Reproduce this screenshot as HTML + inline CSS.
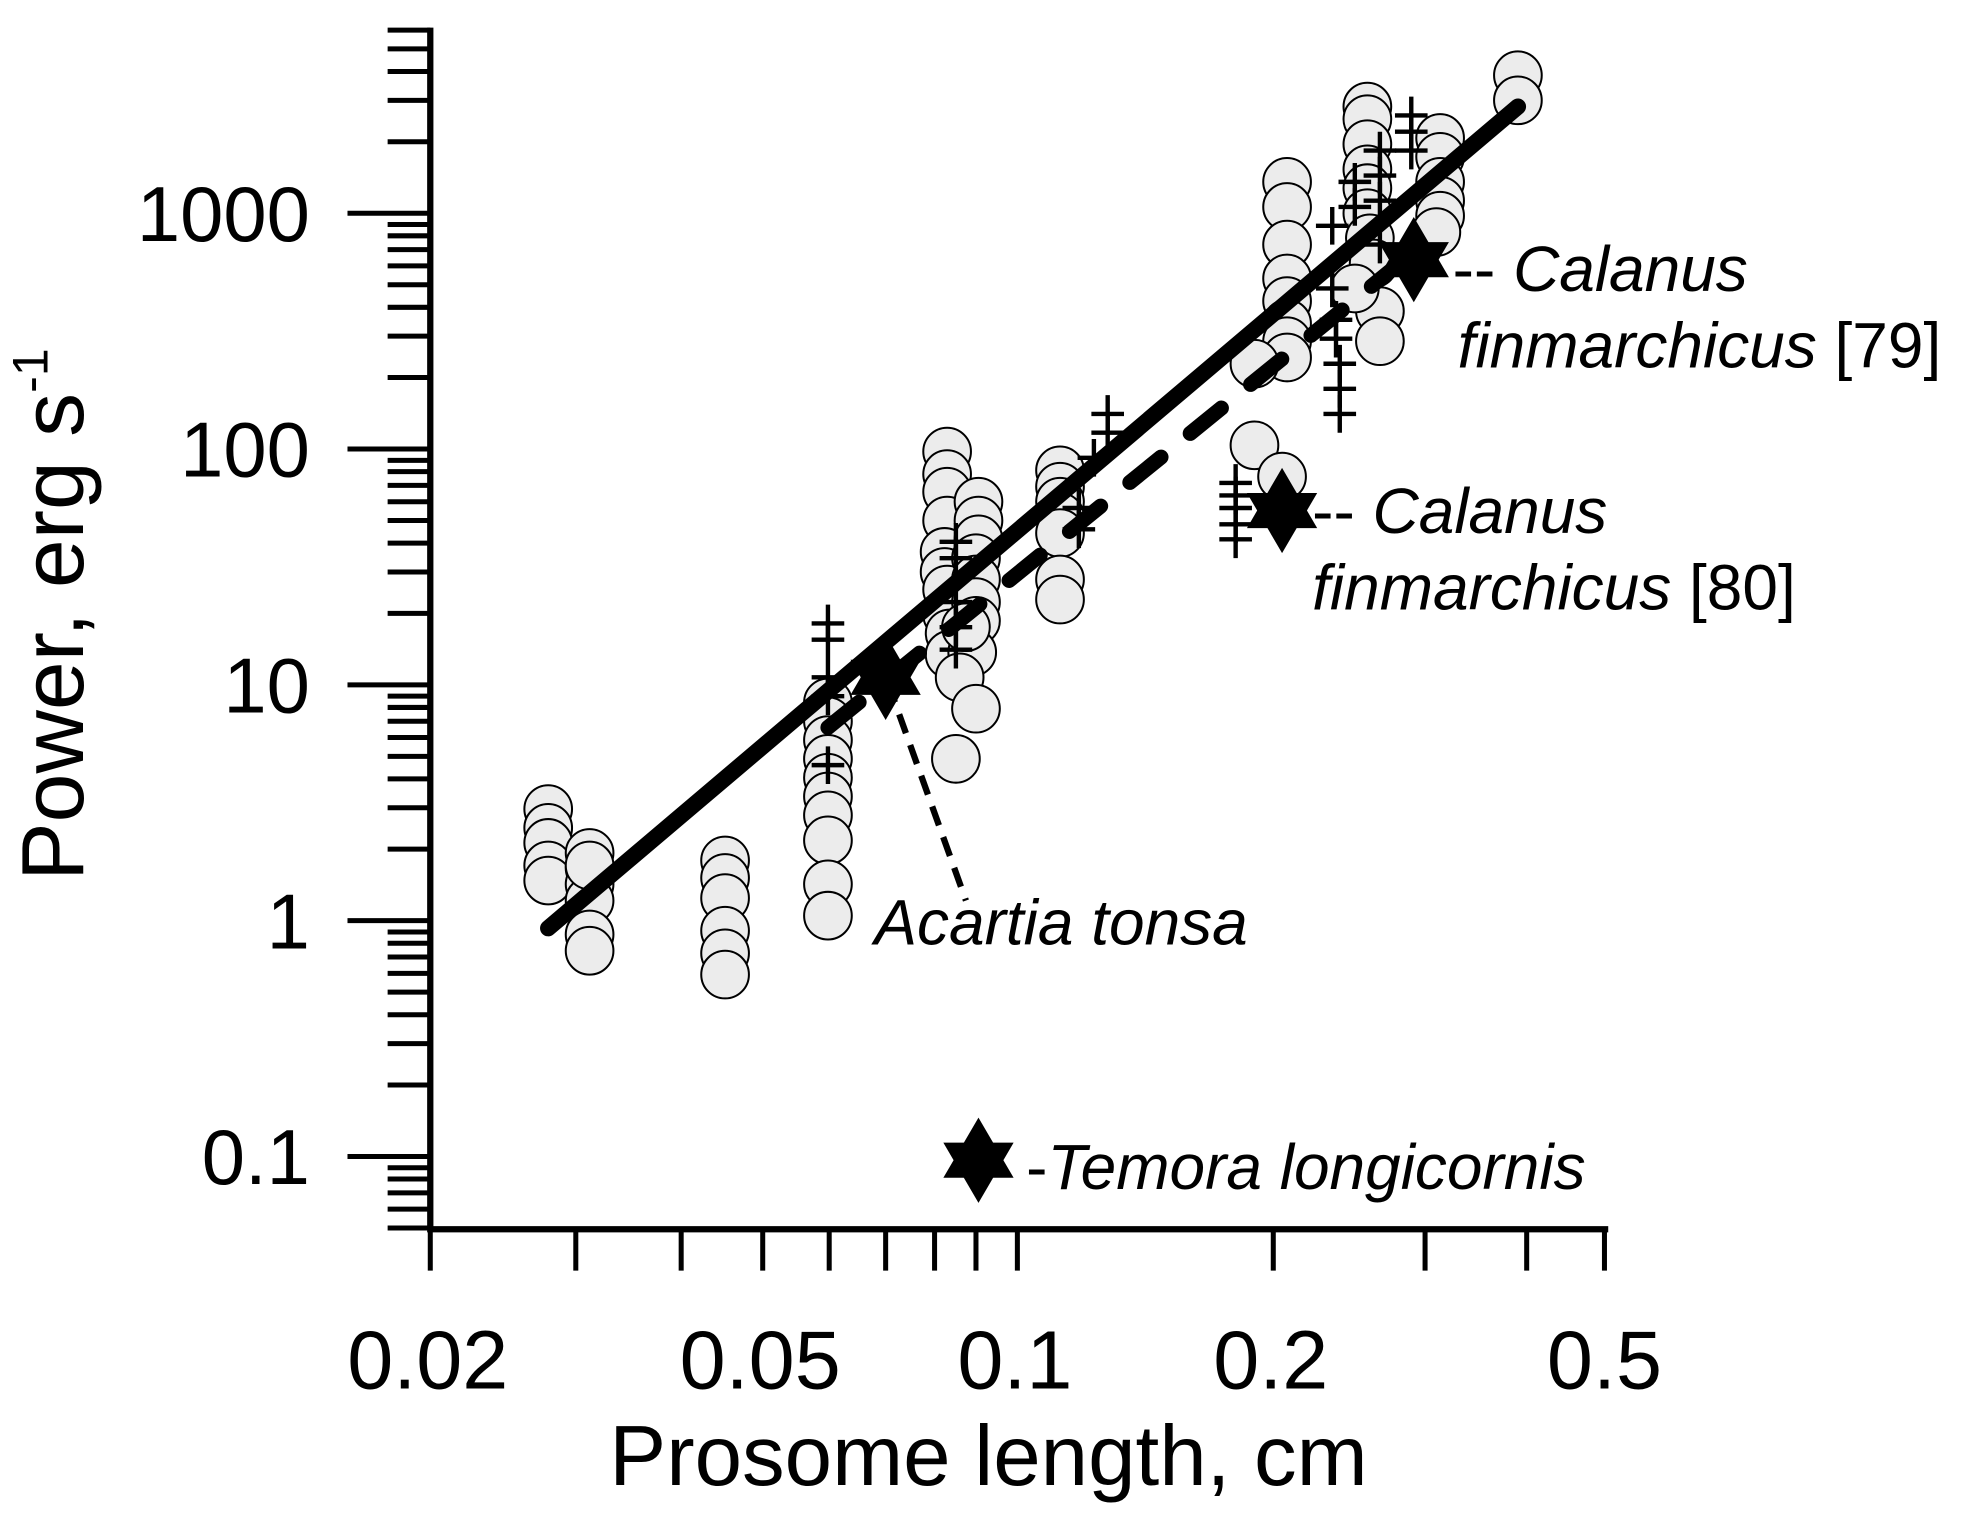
<!DOCTYPE html>
<html><head><meta charset="utf-8">
<style>html,body{margin:0;padding:0;background:#fff;}svg{display:block;}</style>
</head><body>
<svg width="1967" height="1529" viewBox="0 0 1568 1219" preserveAspectRatio="none" xmlns="http://www.w3.org/2000/svg" font-family="Liberation Sans, Arial, sans-serif">
<defs>
<g id="c"><circle r="19" fill="#ececec" stroke="#000" stroke-width="1.6"/></g>
<g id="p"><path d="M-13 0H13M0 -15V15" stroke="#000" stroke-width="3.5"/></g>
<g id="s"><polygon points="0,-34 28,14 -28,14" fill="#000"/><polygon points="0,34 28,-14 -28,-14" fill="#000"/></g>
</defs>
<g stroke="#000" stroke-width="5" fill="none">
<path d="M343 22V980H1282"/>
</g>
<g stroke="#000" stroke-width="4">
<path d="M277 170H343M277 358H343M277 546H343M277 734H343M277 922H343"/>
<path d="M309 113H343M309 80H343M309 57H343M309 39H343M309 24H343"/>
<path d="M309 301H343M309 268H343M309 245H343M309 227H343M309 212H343M309 199H343M309 188H343M309 179H343
M309 489H343M309 456H343M309 433H343M309 415H343M309 400H343M309 387H343M309 376H343M309 367H343
M309 677H343M309 644H343M309 621H343M309 603H343M309 588H343M309 575H343M309 564H343M309 555H343
M309 865H343M309 832H343M309 809H343M309 791H343M309 776H343M309 763H343M309 752H343M309 743H343
M309 931H343M309 940H343M309 951H343M309 964H343M309 979H343"/>
<path d="M343 980V1013M459 980V1013M543 980V1013M608 980V1013M661 980V1013M706 980V1013M745 980V1013M778 980V1013M811 980V1013M1015 980V1013M1136 980V1013M1217 980V1013M1279 980V1013"/>
</g>
<g font-size="62" text-anchor="end" fill="#000">
<text x="247" y="192">1000</text>
<text x="247" y="380">100</text>
<text x="247" y="568">10</text>
<text x="247" y="756">1</text>
<text x="247" y="944">0.1</text>
</g>
<g font-size="66" text-anchor="middle" fill="#000">
<text x="341" y="1107">0.02</text>
<text x="606" y="1107">0.05</text>
<text x="809" y="1107">0.1</text>
<text x="1013" y="1107">0.2</text>
<text x="1279" y="1107">0.5</text>
</g>
<text x="788" y="1184" font-size="68" text-anchor="middle">Prosome length, cm</text>
<text transform="translate(66,490) rotate(-90)" font-size="70" text-anchor="middle">Power, erg s<tspan font-size="40" dy="-28">-1</tspan></text>

<g>
<use href="#c" x="437" y="645"/><use href="#c" x="437" y="660"/><use href="#c" x="437" y="672"/><use href="#c" x="437" y="690"/><use href="#c" x="437" y="702"/>
<use href="#c" x="470" y="680"/><use href="#c" x="470" y="692"/><use href="#c" x="470" y="705"/><use href="#c" x="470" y="718"/><use href="#c" x="470" y="745"/><use href="#c" x="470" y="758"/><use href="#c" x="470" y="690"/>
<use href="#c" x="578" y="686"/><use href="#c" x="578" y="700"/><use href="#c" x="578" y="716"/><use href="#c" x="578" y="742"/><use href="#c" x="578" y="760"/><use href="#c" x="578" y="777"/>
<use href="#c" x="660" y="560"/><use href="#c" x="660" y="575"/><use href="#c" x="660" y="590"/><use href="#c" x="660" y="605"/><use href="#c" x="660" y="620"/><use href="#c" x="660" y="635"/><use href="#c" x="660" y="650"/><use href="#c" x="660" y="670"/><use href="#c" x="660" y="705"/><use href="#c" x="660" y="730"/>
<use href="#c" x="755" y="360"/><use href="#c" x="755" y="378"/><use href="#c" x="755" y="392"/><use href="#c" x="755" y="415"/><use href="#c" x="753" y="440"/><use href="#c" x="753" y="456"/><use href="#c" x="755" y="470"/><use href="#c" x="755" y="490"/><use href="#c" x="757" y="505"/><use href="#c" x="757" y="522"/><use href="#c" x="762" y="605"/>
<use href="#c" x="780" y="400"/><use href="#c" x="780" y="415"/><use href="#c" x="780" y="430"/><use href="#c" x="778" y="445"/><use href="#c" x="778" y="462"/><use href="#c" x="778" y="480"/><use href="#c" x="778" y="495"/><use href="#c" x="775" y="520"/><use href="#c" x="765" y="540"/><use href="#c" x="778" y="565"/><use href="#c" x="770" y="500"/>
<use href="#c" x="845" y="375"/><use href="#c" x="845" y="388"/><use href="#c" x="845" y="400"/><use href="#c" x="845" y="412"/><use href="#c" x="845" y="425"/><use href="#c" x="845" y="462"/><use href="#c" x="845" y="478"/>
<use href="#c" x="1000" y="355"/><use href="#c" x="1022" y="380"/>
<use href="#c" x="1026" y="145"/><use href="#c" x="1026" y="165"/><use href="#c" x="1026" y="195"/><use href="#c" x="1026" y="222"/><use href="#c" x="1026" y="240"/><use href="#c" x="1026" y="258"/><use href="#c" x="1026" y="272"/><use href="#c" x="1026" y="285"/><use href="#c" x="1000" y="290"/>
<use href="#c" x="1090" y="85"/><use href="#c" x="1090" y="95"/><use href="#c" x="1090" y="115"/><use href="#c" x="1090" y="135"/><use href="#c" x="1090" y="150"/><use href="#c" x="1090" y="170"/><use href="#c" x="1092" y="190"/><use href="#c" x="1095" y="210"/><use href="#c" x="1100" y="248"/><use href="#c" x="1100" y="272"/><use href="#c" x="1080" y="230"/>
<use href="#c" x="1148" y="110"/><use href="#c" x="1148" y="125"/><use href="#c" x="1148" y="145"/><use href="#c" x="1148" y="160"/><use href="#c" x="1148" y="172"/><use href="#c" x="1145" y="185"/>
<use href="#c" x="1210" y="60"/><use href="#c" x="1210" y="80"/>
</g>
<g>
<use href="#p" x="660" y="497"/><use href="#p" x="660" y="510"/><use href="#p" x="660" y="540"/><use href="#p" x="660" y="555"/><use href="#p" x="660" y="610"/>
<use href="#p" x="762" y="432"/><use href="#p" x="762" y="445"/><use href="#p" x="762" y="480"/><use href="#p" x="762" y="500"/><use href="#p" x="762" y="518"/>
<use href="#p" x="883" y="330"/><use href="#p" x="883" y="345"/><use href="#p" x="872" y="365"/><use href="#p" x="860" y="405"/><use href="#p" x="860" y="422"/>
<use href="#p" x="985" y="385"/><use href="#p" x="985" y="395"/><use href="#p" x="985" y="405"/><use href="#p" x="985" y="418"/><use href="#p" x="985" y="430"/>
<use href="#p" x="1062" y="180"/><use href="#p" x="1062" y="230"/><use href="#p" x="1065" y="255"/><use href="#p" x="1065" y="270"/><use href="#p" x="1068" y="290"/><use href="#p" x="1068" y="310"/><use href="#p" x="1068" y="330"/>
<use href="#p" x="1080" y="145"/><use href="#p" x="1080" y="165"/><use href="#p" x="1100" y="120"/><use href="#p" x="1100" y="140"/><use href="#p" x="1100" y="160"/><use href="#p" x="1100" y="195"/>
<use href="#p" x="1125" y="92"/><use href="#p" x="1125" y="105"/><use href="#p" x="1125" y="120"/><use href="#p" x="1125" y="200"/>
</g>
<line x1="437" y1="740" x2="1210" y2="85" stroke="#000" stroke-width="13" stroke-linecap="round"/>
<line x1="660" y1="580" x2="1128" y2="200" stroke="#000" stroke-width="12" stroke-linecap="round" stroke-dasharray="32 30"/>
<line x1="708" y1="545" x2="770" y2="718" stroke="#000" stroke-width="5" stroke-dasharray="16 10"/>
<use href="#s" x="706" y="540"/>
<use href="#s" x="1022" y="407"/>
<use href="#s" x="1127" y="207"/>
<use href="#s" x="780" y="925"/>
<g font-size="51" font-style="italic" fill="#000">
<text x="1158" y="232"><tspan font-style="normal">-- </tspan>Calanus</text>
<text x="1162" y="293">finmarchicus <tspan font-style="normal">[79]</tspan></text>
<text x="1046" y="425"><tspan font-style="normal">-- </tspan>Calanus</text>
<text x="1046" y="486">finmarchicus <tspan font-style="normal">[80]</tspan></text>
<text x="697" y="753">Acartia tonsa</text>
<text x="818" y="948"><tspan font-style="normal">-</tspan>Temora longicornis</text>
</g>
</svg>
</body></html>
